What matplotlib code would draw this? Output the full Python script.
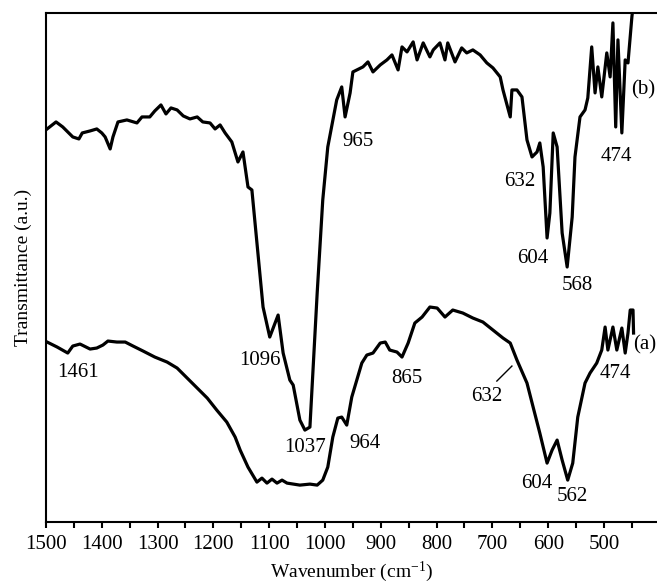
import numpy as np
import matplotlib
matplotlib.use("Agg")
import matplotlib.pyplot as plt

plt.rcParams['font.family'] = ['Liberation Serif', 'DejaVu Serif']
plt.rcParams['mathtext.fontset'] = 'custom'
plt.rcParams['mathtext.rm'] = 'Liberation Serif'
plt.rcParams['mathtext.it'] = 'Liberation Serif:italic'

# spectrum (b) - wavenumber [cm-1] and transmittance [a.u.]
wn_b = [1498, 1482, 1470, 1452, 1441, 1435, 1421, 1409, 1400, 1394, 1385, 1380,
        1371, 1355, 1337, 1328, 1314, 1305, 1294, 1285, 1276, 1265, 1254, 1242,
        1229, 1219, 1206, 1197, 1188, 1179, 1167, 1156, 1147, 1138, 1131, 1111,
        1099, 1084, 1075, 1063, 1057, 1045, 1036, 1027, 1014, 1004, 995, 979,
        970, 964, 955, 950, 932, 923, 914, 901, 889, 880, 869, 862, 853, 842,
        835, 824, 812, 806, 794, 785, 780, 767, 755, 746, 735, 722, 710, 699,
        686, 681, 668, 665, 656, 647, 638, 629, 620, 615, 609, 602, 597, 591,
        584, 575, 566, 557, 552, 543, 534, 529, 522, 516, 511, 504, 495, 489,
        484, 479, 475, 468, 462, 457, 450, 446]
tr_b = [393, 400, 395, 385, 383, 389, 391, 393, 389, 385, 373, 385,
        400, 402, 399, 405, 405, 411, 417, 408, 414, 412, 406, 403,
        405, 400, 399, 393, 397, 389, 380, 360, 370, 335, 332, 215,
        185, 207, 169, 142, 137, 102, 92, 95, 229, 322, 375, 422,
        435, 405, 429, 450, 455, 460, 450, 457, 462, 467, 452, 475, 470, 480,
        462, 479, 465, 472, 479, 462, 479, 460, 474, 469, 472, 467, 459, 454,
        445, 432, 405, 432, 432, 425, 382, 365, 370, 379, 355, 284, 309, 389,
        375, 289, 255, 305, 365, 405, 412, 424, 475, 429, 455, 425, 469, 445,
        499, 395, 482, 389, 462, 459, 505, 525]

# spectrum (a)
wn_a = [1498, 1480, 1461, 1452, 1439, 1421, 1409, 1398, 1389, 1373, 1358, 1344,
        1326, 1305, 1283, 1265, 1247, 1229, 1211, 1194, 1176, 1161, 1152, 1138,
        1122, 1113, 1104, 1095, 1086, 1077, 1068, 1045, 1027, 1014, 1004, 995,
        986, 977, 970, 961, 952, 943, 934, 925, 914, 901, 892, 884, 871, 862,
        851, 839, 826, 812, 799, 785, 771, 753, 735, 717, 699, 681, 668, 656,
        638, 627, 615, 602, 593, 584, 575, 565, 556, 547, 534, 525, 513, 504,
        498, 493, 484, 477, 468, 462, 457, 453, 448, 447]
tr_a = [180, 175, 169, 176, 178, 173, 174, 177, 181, 180, 180, 176,
        171, 165, 160, 154, 144, 134, 124, 112, 100, 85, 72, 55,
        40, 44, 39, 43, 39, 42, 39, 37, 38, 37, 42, 55,
        85, 104, 105, 97, 125, 142, 159, 167, 169, 179, 180, 172, 170, 165,
        179, 199, 205, 215, 214, 205, 212, 209, 204, 200, 192, 184, 179, 162,
        139, 115, 89, 59, 72, 82, 62, 42, 59, 105, 139, 149, 159, 172,
        195, 172, 195, 172, 194, 169, 189, 212, 212, 189]

# peak labels: (text, wavenumber, transmittance)
labels_b = [("965", 941, 380), ("632", 651, 340), ("604", 627, 264),
            ("568", 547, 237), ("474", 477, 365), ("(b)", 430, 432)]
labels_a = [("1461", 1443, 150), ("1096", 1117, 162), ("1037", 1036, 75),
            ("964", 928, 79), ("865", 853, 144), ("632", 710, 126),
            ("604", 620, 39), ("562", 556, 26), ("474", 480, 149),
            ("(a)", 427, 177)]

fig = plt.figure(figsize=(6.57, 5.86), dpi=100)
ax = fig.add_axes([0.070, 0.109, 0.930, 0.869])

ax.plot(wn_b, tr_b, color='black', lw=2.3, solid_joinstyle='round')
ax.plot(wn_a, tr_a, color='black', lw=2.3, solid_joinstyle='round')

for txt, x, y in labels_b + labels_a:
    ax.text(x, y, txt, ha='center', va='center', fontsize=15)

# leader line for the shoulder at 632 on (a)
ax.plot([692, 665], [141, 156], color='black', lw=1.0)

ax.set_xlim(1500, 405)
ax.set_ylim(0, 509)
ax.set_xticks(np.arange(1500, 499, -100))
ax.set_xticks(np.arange(1450, 400, -100), minor=True)
ax.set_yticks([])
ax.tick_params(axis='x', which='both', direction='out', length=4, width=1.5,
               labelsize=15, pad=5)
for side in ['left', 'bottom', 'top']:
    ax.spines[side].set_linewidth(1.5)
ax.spines['right'].set_visible(False)

ax.set_xlabel(r"Wavenumber (cm$^{-1}$)", fontsize=14, labelpad=4)
ax.set_ylabel("Transmittance (a.u.)", fontsize=14, labelpad=10)

fig.savefig("out.png", dpi=100)
